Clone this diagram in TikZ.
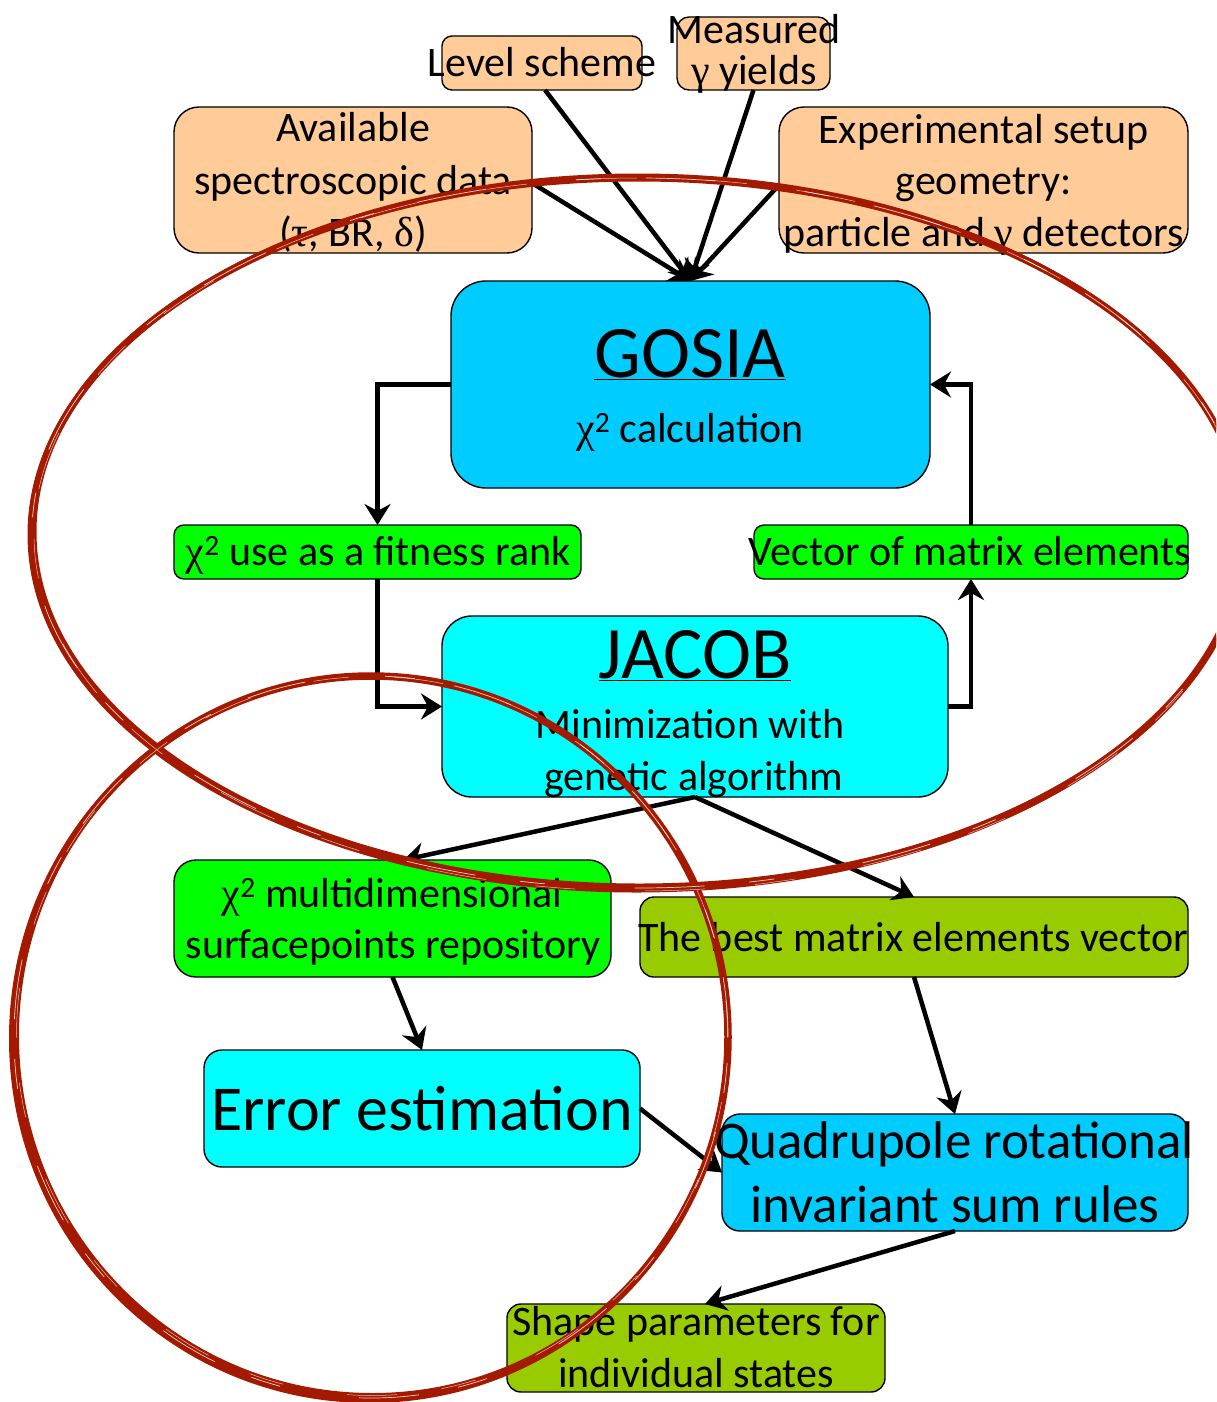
\documentclass[tikz,border=0pt]{standalone}
\usepackage{fontspec}
\setmainfont{Carlito}
\newfontfamily\grk{Liberation Serif}
\usetikzlibrary{arrows.meta,calc}
\definecolor{peach}{RGB}{255,204,153}
\definecolor{sky}{RGB}{0,204,255}
\definecolor{aqua}{RGB}{0,255,255}
\definecolor{lime}{RGB}{0,255,0}
\definecolor{boxolive}{RGB}{153,204,0}
\definecolor{scribble}{RGB}{163,26,0}
\begin{document}
\begin{tikzpicture}[x=1pt,y=-1pt,
  box/.style={draw=black, line width=1.4pt, rounded corners=#1, inner sep=0pt, outer sep=0pt},
  box/.default=12pt,
  lbl/.style={anchor=base, inner sep=0pt, outer sep=0pt, font=\fontsize{42}{50}\selectfont},
  big/.style={anchor=base, inner sep=0pt, outer sep=0pt, font=\fontsize{74}{88}\selectfont},
  arr/.style={line width=4.5pt, -{Stealth[length=21pt,width=26pt,inset=7pt]}},
  scrib/.style={draw=scribble, line width=#1, line cap=round, line join=round},
]
\useasboundingbox (0,0) rectangle (1216,1402);

% boxes
\node[box=10pt, fill=peach, minimum width=200pt, minimum height=54pt] (lvl) at (542,63) {};
\node[box=12pt, fill=peach, minimum width=153pt, minimum height=73pt] (meas) at (753.5,53.5) {};
\node[box=25pt, fill=peach, minimum width=358pt, minimum height=146pt] (avail) at (353,180) {};
\node[box=25pt, fill=peach, minimum width=409pt, minimum height=146pt] (exp) at (983.5,180) {};
\node[box=35pt, fill=sky, minimum width=479pt, minimum height=207pt] (gosia) at (690.5,384.5) {};
\node[box=10pt, fill=lime, minimum width=407pt, minimum height=54pt] (fit) at (377.5,552) {};
\node[box=10pt, fill=lime, minimum width=434pt, minimum height=54pt] (vec) at (971,552) {};
\node[box=30pt, fill=aqua, minimum width=506pt, minimum height=181pt] (jacob) at (695,706.5) {};
\node[box=22pt, fill=lime, minimum width=437pt, minimum height=117pt] (multi) at (392.5,918.5) {};
\node[box=14pt, fill=boxolive, minimum width=548pt, minimum height=80pt] (best) at (914,937) {};
\node[box=18pt, fill=aqua, minimum width=436pt, minimum height=117pt] (err) at (422,1108.5) {};
\node[box=18pt, fill=sky, minimum width=466pt, minimum height=117pt] (quad) at (955,1172.5) {};
\node[box=14pt, fill=boxolive, minimum width=378pt, minimum height=88pt] (shape) at (696,1348) {};

% connectors
\draw[arr] ([yshift=-3pt]avail.east) -- (gosia.north);
\draw[arr] ([xshift=3pt]lvl.south) -- (gosia.north);
\draw[arr] (meas.south) -- (gosia.north);
\draw[arr] ([yshift=-5pt]exp.west) -- (gosia.north);
\draw[arr] (gosia.west) -| (fit.north);
\draw[arr] (fit.south) |- (jacob.west);
\draw[arr] (jacob.east) -| (vec.south);
\draw[arr] (vec.north) |- (gosia.east);
\draw[arr] (jacob.south) -- ([xshift=11pt]multi.north);
\draw[arr] (jacob.south) -- (best.north);
\draw[arr] (multi.south) -- (err.north);
\draw[arr] (best.south) -- (quad.north);
\draw[arr] (err.east) -- (quad.west);
\draw[arr] (quad.south) -- ([xshift=9pt]shape.north);

% texts
\node[lbl] (tlvl) at (542,77) {Level scheme};
\node[lbl] (tmeasA) at (754,44) {Measured};
\node[lbl] (tmeasB) at (754,85) {{\grk γ} yields};
\node[lbl] (tavA) at (353,142) {Available};
\node[lbl] (tavB) at (353,194) {spectroscopic data};
\node[lbl] (tavC) at (353,246) {({\grk τ}, BR, {\grk δ})};
\node[lbl] (texA) at (983.5,143) {Experimental setup};
\node[lbl] (texB) at (983.5,194) {geometry:};
\node[lbl] (texC) at (983.5,246) {particle and {\grk γ} detectors};
\node[big] (tgosia) at (690,377) {\underline{GOSIA}};
\node[lbl] (tchi) at (690,442) {{\grk χ}\textsuperscript{2} calculation};
\node[lbl] (tfit) at (378,565) {{\grk χ}\textsuperscript{2} use as a fitness rank};
\node[lbl] (tvec) at (970,565) {Vector of matrix elements};
\node[big] (tjacob) at (695,678) {\underline{JACOB}};
\node[lbl] (tjA) at (690,738) {Minimization with};
\node[lbl] (tjB) at (694,790) {genetic algorithm};
\node[lbl] (tmuA) at (392,907) {{\grk χ}\textsuperscript{2} multidimensional};
\node[lbl] (tmuB) at (393,958) {surfacepoints repository};
\node[lbl] (tbest) at (913,951) {The best matrix elements vector};
\node[lbl, font=\fontsize{64}{77}\selectfont] (terr) at (422,1130) {Error estimation};
\node[lbl, font=\fontsize{53}{64}\selectfont] (tquA) at (954,1158) {Quadrupole rotational};
\node[lbl, font=\fontsize{53}{64}\selectfont] (tquB) at (955,1222) {invariant sum rules};
\node[lbl] (tshA) at (696,1335) {Shape parameters for};
\node[lbl] (tshB) at (696,1387) {individual states};

% hand-drawn red ellipses
\begin{scope}
\clip (0,0) rectangle (1216,1402);
\foreach \cx/\cy/\ra/\rb/\w in {638/533/606/355/7pt, 639.5/532/604.5/353/3pt, 636.5/534.5/607.5/356.5/3pt, 638/531.5/606/357/2pt} {
  \draw[scrib=\w] (\cx,\cy) ellipse [x radius=\ra pt, y radius=\rb pt];
}
\foreach \cx/\cy/\ra/\rb/\w in {371/1037/357/361/7.5pt, 372.5/1035.5/355/359/3pt, 369.5/1038.5/359/363/3pt, 371/1038/356/362.5/2pt} {
  \draw[scrib=\w] (\cx,\cy) ellipse [x radius=\ra pt, y radius=\rb pt];
}
\draw[white, line width=0.7pt, opacity=0.8, dash pattern=on 70pt off 45pt on 25pt off 90pt] (638,533) ellipse [x radius=606pt, y radius=355pt];
\draw[white, line width=0.5pt, opacity=0.7, dash pattern=on 40pt off 70pt on 60pt off 50pt] (639,534.5) ellipse [x radius=605pt, y radius=356.5pt];
\draw[white, line width=0.7pt, opacity=0.8, dash pattern=on 60pt off 40pt on 30pt off 80pt] (371,1037) ellipse [x radius=357pt, y radius=361pt];
\draw[white, line width=0.5pt, opacity=0.7, dash pattern=on 35pt off 65pt on 50pt off 45pt] (372,1036) ellipse [x radius=355.5pt, y radius=359.5pt];
\end{scope}
\end{tikzpicture}
\end{document}
